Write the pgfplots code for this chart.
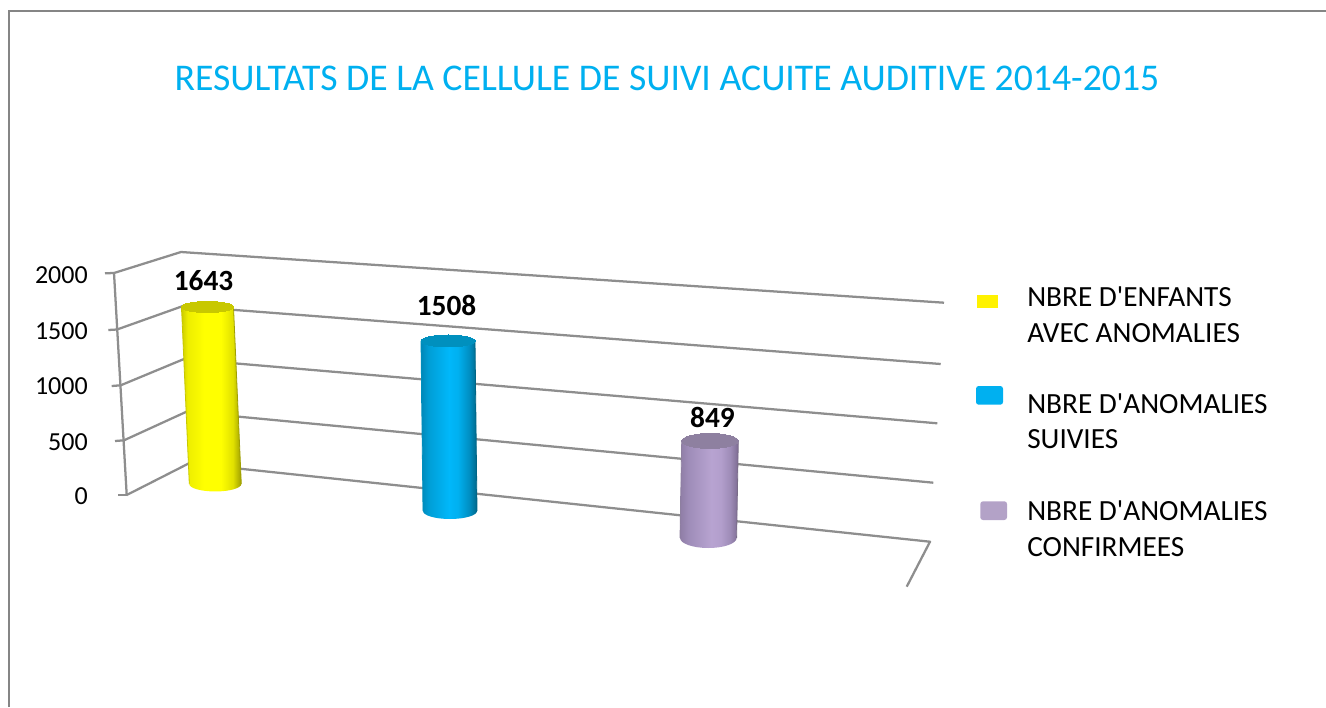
\documentclass[border=0pt]{standalone}
\usepackage{fontspec}
\setmainfont{Carlito}[Ligatures=TeXOff]
\usepackage{pgfplots}
\pgfplotsset{compat=1.18}
\definecolor{gridgray}{HTML}{8E8E8E}
\definecolor{titleblue}{HTML}{00B0F0}
\definecolor{framegray}{HTML}{858585}
\definecolor{legpurple}{HTML}{B3A2C7}
\definecolor{capyellow}{HTML}{C8C800}
\definecolor{capblue}{HTML}{0090BE}
\definecolor{cappurple}{HTML}{8E80A0}
\pgfdeclarehorizontalshading{cylyellow}{100bp}{rgb(0bp)=(.80,.80,0); rgb(25bp)=(.80,.80,0); rgb(30bp)=(.93,.93,0); rgb(44bp)=(1,1,0); rgb(58bp)=(1,1,0); rgb(68bp)=(.88,.88,0); rgb(75bp)=(.62,.62,0); rgb(100bp)=(.62,.62,0)}
\pgfdeclarehorizontalshading{cylblue}{100bp}{rgb(0bp)=(0,.53,.72); rgb(25bp)=(0,.53,.72); rgb(32bp)=(0,.62,.84); rgb(50bp)=(0,.72,.98); rgb(58bp)=(0,.69,.94); rgb(68bp)=(0,.56,.76); rgb(75bp)=(0,.40,.54); rgb(100bp)=(0,.40,.54)}
\pgfdeclarehorizontalshading{cylpurple}{100bp}{rgb(0bp)=(.56,.49,.65); rgb(25bp)=(.56,.49,.65); rgb(32bp)=(.62,.55,.72); rgb(52bp)=(.72,.64,.82); rgb(60bp)=(.70,.62,.80); rgb(68bp)=(.62,.55,.72); rgb(75bp)=(.49,.42,.57); rgb(100bp)=(.49,.42,.57)}
\pgfplotsset{
  baraxis/.style={
    anchor=origin, hide axis, clip=false,
    xmin=-30, xmax=30, ymin=0, ymax=2000,
    x={(0.75pt,0pt)},
  },
  barlabel/.style={
    nodes near coords={\pgfmathprintnumber[1000 sep={},assume math mode=true]{\pgfplotspointmeta}},
    point meta=y,
    every node near coord/.append style={font=\fontsize{22}{26}\selectfont\bfseries, black, inner sep=0pt, anchor=base},
  },
  grid line/.style={gridgray, line width=1.7pt, no marks, line join=round},
}
\begin{document}
\begin{tikzpicture}
\useasboundingbox (0,0) rectangle (994.5pt,530.25pt);
% page coordinates: walls, frame, legend swatches, text
\begin{axis}[
  at={(0,0)}, anchor=south west, scale only axis,
  width=994.5pt, height=530.25pt, hide axis, clip=true,
  xmin=0, xmax=1326, ymin=0, ymax=707, y dir=reverse,
]
\addplot[framegray, line width=1.5pt, no marks] coordinates {(8.5,707) (8.5,10.5) (1326,10.5)};
% vertical axis and its ticks
\addplot[grid line] coordinates {(114,273) (126.7,495)};
\addplot[grid line] coordinates {(105,273.3) (114,273)};
\addplot[grid line] coordinates {(108.3,330) (117,329.5)};
\addplot[grid line] coordinates {(111.7,386) (120.7,385.3)};
\addplot[grid line] coordinates {(115,441) (124,440.3)};
\addplot[grid line] coordinates {(118.3,495) (126.7,495)};
% gridlines for 2000, 1500, 1000, 500, 0
\addplot[grid line] coordinates {(114,273) (181,252) (944,302.7)};
\addplot[grid line] coordinates {(117,329.5) (183,306) (940.7,364)};
\addplot[grid line] coordinates {(120.7,385.3) (184,359) (937.3,423.3)};
\addplot[grid line] coordinates {(124,440.3) (186.5,411.7) (933.3,482.7)};
\addplot[grid line] coordinates {(126.7,495) (189,463.3) (930,541.7) (906.7,586.7)};
% legend swatches
\addplot[draw=none, fill=yellow] coordinates {(977,295) (998,295) (998,308) (977,308)} -- cycle;
\addplot[draw=none, fill=titleblue, rounded corners=2pt] coordinates {(976,386) (1003,386) (1003,404.7) (976,404.7)} -- cycle;
\addplot[draw=none, fill=legpurple, rounded corners=2pt] coordinates {(980.3,501.3) (1007,501.3) (1007,520) (980.3,520)} -- cycle;
% title
\node[anchor=base, inner sep=0pt, text=titleblue, font=\fontsize{28.3}{32}\selectfont] at (axis cs:667,90.5) {RESULTATS DE LA CELLULE DE SUIVI ACUITE AUDITIVE 2014-2015};
% tick labels
\node[anchor=base east, inner sep=0pt, font=\fontsize{19.5}{24}\selectfont] at (axis cs:88,283.5) {2000};
\node[anchor=base east, inner sep=0pt, font=\fontsize{19.5}{24}\selectfont] at (axis cs:88,339.5) {1500};
\node[anchor=base east, inner sep=0pt, font=\fontsize{19.5}{24}\selectfont] at (axis cs:88,394.5) {1000};
\node[anchor=base east, inner sep=0pt, font=\fontsize{19.5}{24}\selectfont] at (axis cs:88,450) {500};
\node[anchor=base east, inner sep=0pt, font=\fontsize{19.5}{24}\selectfont] at (axis cs:88,504) {0};
% legend text
\node[anchor=base west, inner sep=0pt, font=\fontsize{21.95}{26}\selectfont] at (axis cs:1027,306.5) {NBRE D'ENFANTS};
\node[anchor=base west, inner sep=0pt, font=\fontsize{21.95}{26}\selectfont] at (axis cs:1027,342.2) {AVEC ANOMALIES};
\node[anchor=base west, inner sep=0pt, font=\fontsize{21.95}{26}\selectfont] at (axis cs:1027,413.2) {NBRE D'ANOMALIES};
\node[anchor=base west, inner sep=0pt, font=\fontsize{21.95}{26}\selectfont] at (axis cs:1027,448.8) {SUIVIES};
\node[anchor=base west, inner sep=0pt, font=\fontsize{21.95}{26}\selectfont] at (axis cs:1027,520.5) {NBRE D'ANOMALIES};
\node[anchor=base west, inner sep=0pt, font=\fontsize{21.95}{26}\selectfont] at (axis cs:1027,556.5) {CONFIRMEES};
\end{axis}
% bars: each in its own skewed axis, origin at the foot of the cylinder
\begin{axis}[baraxis, at={(161.475pt,167.25pt)}, y={(-0.003561pt,0.080797pt)}]
\addplot[draw=none, shade, shading=cylyellow] coordinates {(-26,0) (-26,1643) (26,1643) (26,0)} arc[start angle=0, end angle=-180, x radius=19.5pt, y radius=5.6pt] -- cycle;
\addplot[no marks, color=capyellow, line width=0.6pt] coordinates {(-26,0) (-26,1643)};
\addplot[no marks, color=capyellow!80!black, line width=0.6pt] coordinates {(26,0) (26,1643)};
\addplot[only marks, mark=*, mark size=0.75pt, mark options={draw=capyellow, fill=capyellow, line width=0pt, xscale=26, yscale=5.5}] coordinates {(0,1643)};
\addplot[only marks, mark=none, barlabel, every node near coord/.append style={xshift=-3pt, yshift=12.6pt}] coordinates {(0,1643)};
\end{axis}
\begin{axis}[baraxis, at={(337.5pt,147pt)}, y={(-0.000995pt,0.084549pt)}]
\addplot[draw=none, shade, shading=cylblue] coordinates {(-27,0) (-27,1508) (27,1508) (27,0)} arc[start angle=0, end angle=-180, x radius=20.25pt, y radius=6pt] -- cycle;
\addplot[no marks, color=capblue, line width=0.6pt] coordinates {(-27,0) (-27,1508)};
\addplot[no marks, color=capblue!70!black, line width=0.6pt] coordinates {(27,0) (27,1508)};
\addplot[only marks, mark=*, mark size=0.75pt, mark options={draw=capblue, fill=capblue, line width=0pt, xscale=27, yscale=6}] coordinates {(0,1508)};
\addplot[only marks, mark=none, barlabel, every node near coord/.append style={xshift=-1.1pt, yshift=18.8pt}] coordinates {(0,1508)};
\end{axis}
\begin{axis}[baraxis, at={(531.225pt,126.75pt)}, y={(0.001502pt,0.085689pt)}]
\addplot[draw=none, shade, shading=cylpurple] coordinates {(-28.3,0) (-28.3,849) (28.3,849) (28.3,0)} arc[start angle=0, end angle=-180, x radius=21.2pt, y radius=7.5pt] -- cycle;
\addplot[no marks, color=cappurple, line width=0.6pt] coordinates {(-28.3,0) (-28.3,849)};
\addplot[no marks, color=cappurple!85!black, line width=0.6pt] coordinates {(28.3,0) (28.3,849)};
\addplot[only marks, mark=*, mark size=0.75pt, mark options={draw=cappurple, fill=cappurple, line width=0pt, xscale=28.3, yscale=7.5}] coordinates {(0,849)};
\addplot[only marks, mark=none, barlabel, every node near coord/.append style={xshift=1.9pt, yshift=10pt}] coordinates {(0,849)};
\end{axis}
\end{tikzpicture}
\end{document}
